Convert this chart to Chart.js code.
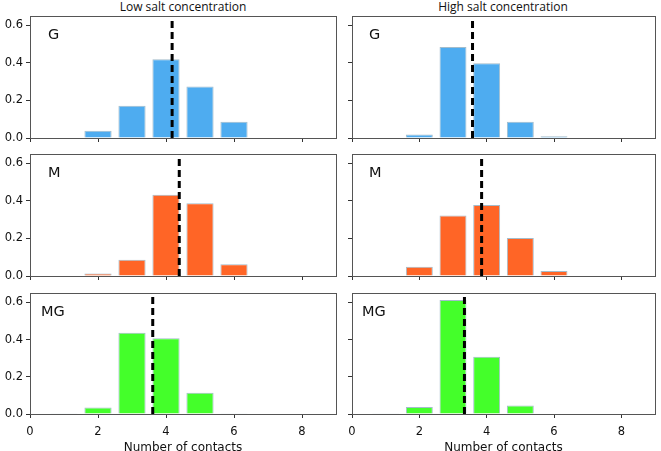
<!DOCTYPE html>
<html>
<head>
<meta charset="utf-8">
<script src="https://cdn.jsdelivr.net/npm/chart.js@4/dist/chart.umd.min.js"></script>
<style>
  html, body { margin: 0; padding: 0; background: #fff; }
  #wrap { position: relative; width: 661px; height: 451px; overflow: hidden; }
  canvas { position: absolute; }
  .title { position: absolute; top: 0; height: 14px; line-height: 14px; font-family: "Open Sans", sans-serif; font-size: 12px; color: #111; text-align: center; white-space: nowrap; }
</style>
</head>
<body>
<div id="wrap">
  <div class="title" style="left:83px;width:200px;">Low salt concentration</div>
  <div class="title" style="left:403px;width:200px;">High salt concentration</div>
</div>
<script>
// ---- data ----
const contacts = [1, 2, 3, 4, 5, 6, 7, 8];
const lowG   = [0.003, 0.038, 0.172, 0.420, 0.275, 0.086, 0, 0];
const highG  = [0, 0.018, 0.485, 0.398, 0.086, 0.009, 0, 0];
const lowM   = [0, 0.013, 0.087, 0.433, 0.387, 0.063, 0, 0];
const highM  = [0, 0.049, 0.322, 0.378, 0.202, 0.026, 0.003, 0];
const lowMG  = [0.002, 0.035, 0.437, 0.407, 0.114, 0.002, 0, 0];
const highMG = [0.002, 0.037, 0.612, 0.307, 0.046, 0, 0, 0];
const meanLowG = 4.18, meanHighG = 3.58;
const meanLowM = 4.39, meanHighM = 3.85;
const meanLowMG = 3.61, meanHighMG = 3.34;
const yTicks = [0, 0.2, 0.4, 0.6];
const xTicks = [0, 2, 4, 6, 8];
const panelLabels = ["G", "M", "MG"];
const xTitle = "Number of contacts";

const colors = ["#4eacf0", "#ff6526", "#44ff2a"];
const edge = "#a3bccb";

const framePlugin = {
  id: 'frame',
  afterDraw(chart, args, opts) {
    const a = chart.chartArea, ctx = chart.ctx;
    ctx.save();
    ctx.strokeStyle = '#555';
    ctx.lineWidth = 1;
    ctx.strokeRect(Math.round(a.left) + 0.5, Math.round(a.top) + 0.5, Math.round(a.right - a.left), Math.round(a.bottom - a.top));
    ctx.fillStyle = '#111';
    ctx.font = '14.5px "DejaVu Sans"';
    ctx.textBaseline = 'alphabetic';
    ctx.fillText(opts.label, a.left + opts.dx, a.top + opts.dy);
    ctx.restore();
  }
};

function makePanel(cfg) {
  const c = document.createElement('canvas');
  c.width = cfg.w; c.height = cfg.h;
  c.style.left = cfg.left + 'px'; c.style.top = cfg.top + 'px';
  c.style.width = cfg.w + 'px'; c.style.height = cfg.h + 'px';
  document.getElementById('wrap').appendChild(c);
  new Chart(c, {
    data: {
      datasets: [
        {
          type: 'line',
          data: [{x: cfg.mean, y: 0}, {x: cfg.mean, y: 0.65}],
          borderColor: '#000', borderWidth: 3, borderDash: [7, 4],
          pointRadius: 0, order: 0
        },
        {
          type: 'bar',
          data: contacts.map((x, i) => ({x: x, y: cfg.values[i]})),
          backgroundColor: cfg.color, borderColor: edge, borderWidth: 1,
          barPercentage: 0.8, categoryPercentage: 1.0, order: 1
        }
      ]
    },
    options: {
      responsive: false, animation: false,
      layout: { padding: { top: 8, right: cfg.padR, left: 0, bottom: 0 } },
      plugins: { legend: { display: false }, tooltip: { enabled: false },
        frame: { label: cfg.label, dx: cfg.dx, dy: cfg.dy } },
      scales: {
        x: {
          type: 'linear', min: 0, max: 9, offset: false,
          afterBuildTicks: s => { s.ticks = xTicks.map(v => ({value: v})); },
          afterFit: s => { s.height = cfg.xH; s.paddingLeft = 0; s.paddingRight = 0; },
          grid: { display: true, offset: false, drawOnChartArea: false, drawTicks: true, tickLength: 4, color: '#333' },
          border: { display: false },
          ticks: { display: cfg.showX, padding: 7, color: '#111', font: { family: 'DejaVu Sans', size: 11.5 }, maxRotation: 0 },
          title: { display: cfg.showX, text: xTitle, color: '#111', font: { family: 'DejaVu Sans', size: 12 }, padding: { top: 3, bottom: 0 } }
        },
        y: {
          type: 'linear', min: 0, max: 0.65,
          afterBuildTicks: s => { s.ticks = yTicks.map(v => ({value: v})); },
          afterFit: s => { s.width = cfg.yW; s.paddingTop = 0; s.paddingBottom = 0; },
          grid: { display: true, drawOnChartArea: false, drawTicks: true, tickLength: 4, color: '#333' },
          border: { display: false },
          ticks: { display: cfg.showY, padding: 3, color: '#111', font: { family: 'DejaVu Sans', size: 11.5 }, callback: v => v.toFixed(1) }
        }
      }
    },
    plugins: [framePlugin]
  });
}

const rows = [
  { top: 8,   h: 136, xH: 6,  showX: false },
  { top: 146, h: 136, xH: 6,  showX: false },
  { top: 285, h: 170, xH: 41, showX: true }
];
const lowVals = [lowG, lowM, lowMG], highVals = [highG, highM, highMG];
const lowMeans = [meanLowG, meanLowM, meanLowMG], highMeans = [meanHighG, meanHighM, meanHighMG];
const labelDx = [18, 18, 11];

rows.forEach((r, i) => {
  makePanel({ left: 0, top: r.top, w: 340, h: r.h, yW: 30, padR: 4, xH: r.xH, showX: r.showX, showY: true,
    values: lowVals[i], mean: lowMeans[i], color: colors[i], label: panelLabels[i], dx: labelDx[i], dy: 23 });
  makePanel({ left: 336, top: r.top, w: 325, h: r.h, yW: 16, padR: 6, xH: r.xH, showX: r.showX, showY: false,
    values: highVals[i], mean: highMeans[i], color: colors[i], label: panelLabels[i], dx: labelDx[i] - 1, dy: 23 });
});
</script>
</body>
</html>
